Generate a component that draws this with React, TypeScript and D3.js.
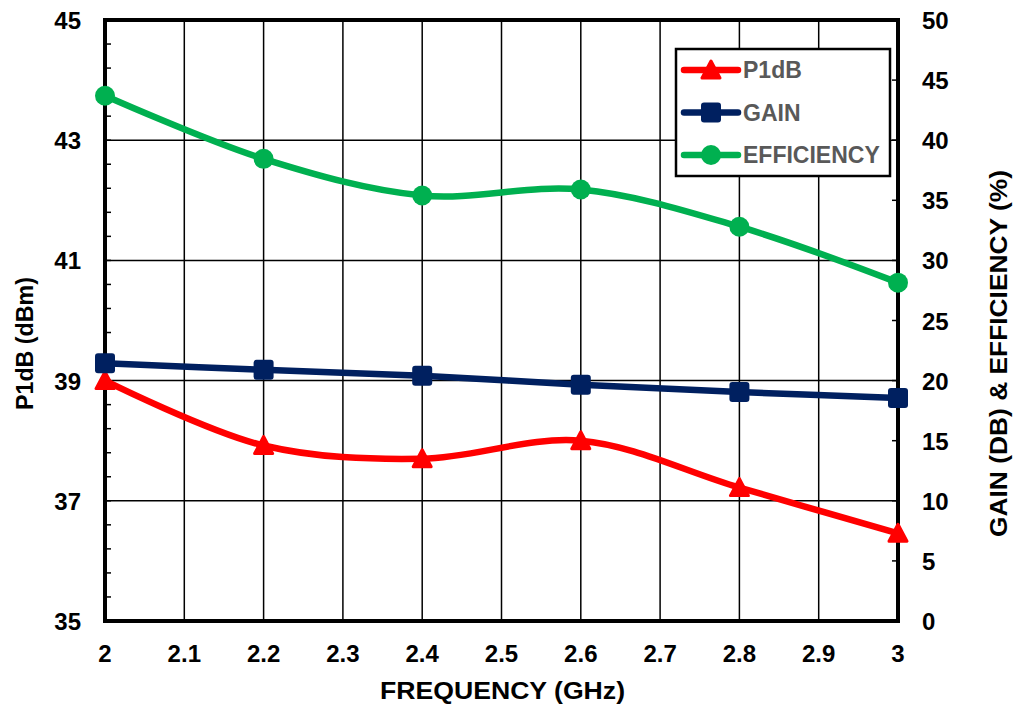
import React from "react";
import * as d3 from "d3";

const frequencies = [2.0, 2.2, 2.4, 2.6, 2.8, 3.0];
const p1dbValues = [39.0, 37.92, 37.7, 38.0, 37.22, 36.46];
const gainValues = [21.45, 20.9, 20.4, 19.65, 19.05, 18.55];
const efficiencyValues = [43.7, 38.45, 35.4, 35.9, 32.8, 28.15];

const xTicks = [2, 2.1, 2.2, 2.3, 2.4, 2.5, 2.6, 2.7, 2.8, 2.9, 3];
const leftTicks = [35, 37, 39, 41, 43, 45];
const rightTicks = [0, 5, 10, 15, 20, 25, 30, 35, 40, 45, 50];

const W = 1014;
const H = 706;
const M = { left: 105, right: 898, top: 20, bottom: 621 };
const FONT = "'Liberation Sans', Arial, sans-serif";

const legendItems = [
  { label: "P1dB", color: "#ff0000", marker: "triangle" },
  { label: "GAIN", color: "#002060", marker: "square" },
  { label: "EFFICIENCY", color: "#00b050", marker: "circle" },
];

function Marker({ type, x, y, color }: { type: string; x: number; y: number; color: string }) {
  if (type === "circle") return <circle cx={x} cy={y} r={10} fill={color} />;
  if (type === "square")
    return <rect x={x - 10} y={y - 10} width={20} height={20} rx={3} fill={color} />;
  return (
    <path
      d={`M${x},${y - 9} L${x + 9},${y + 8} L${x - 9},${y + 8} Z`}
      fill={color}
      stroke={color}
      strokeWidth={3}
      strokeLinejoin="round"
    />
  );
}

export default function App() {
  const x = d3.scaleLinear().domain([2, 3]).range([M.left, M.right]);
  const yL = d3.scaleLinear().domain([35, 45]).range([M.bottom, M.top]);
  const yR = d3.scaleLinear().domain([0, 50]).range([M.bottom, M.top]);

  const mkLine = (vals: number[], scale: d3.ScaleLinear<number, number>) =>
    d3
      .line<number>()
      .x((_, i) => x(frequencies[i]))
      .y((v) => scale(v))
      .curve(d3.curveCatmullRom.alpha(0.5))(vals) as string;

  const series = [
    { vals: p1dbValues, scale: yL, ...legendItems[0] },
    { vals: gainValues, scale: yR, ...legendItems[1] },
    { vals: efficiencyValues, scale: yR, ...legendItems[2] },
  ];

  const leftMinor = d3.range(35, 45.001, 0.4);

  return (
    <svg width={W} height={H} style={{ position: "absolute", left: 0, top: 0 }} fontFamily={FONT}>
      <rect width={W} height={H} fill="#fff" />
      {xTicks.map((t) => (
        <line key={"vx" + t} x1={x(t)} x2={x(t)} y1={M.top} y2={M.bottom} stroke="#000" strokeWidth={1.5} />
      ))}
      {leftTicks.map((t) => (
        <line key={"hy" + t} x1={M.left} x2={M.right} y1={yL(t)} y2={yL(t)} stroke="#000" strokeWidth={1.5} />
      ))}
      {leftMinor.map((t, i) => (
        <line key={"lm" + i} x1={M.left} x2={M.left + 6} y1={yL(t)} y2={yL(t)} stroke="#000" strokeWidth={1.5} />
      ))}
      {rightTicks.map((t) => (
        <line key={"rt" + t} x1={M.right - 6} x2={M.right} y1={yR(t)} y2={yR(t)} stroke="#000" strokeWidth={1.5} />
      ))}
      <rect
        x={M.left}
        y={M.top}
        width={M.right - M.left}
        height={M.bottom - M.top}
        fill="none"
        stroke="#000"
        strokeWidth={4}
      />
      {series.map((s) => (
        <g key={s.label}>
          <path d={mkLine(s.vals, s.scale)} fill="none" stroke={s.color} strokeWidth={6.5} strokeLinejoin="round" strokeLinecap="round" />
          {s.vals.map((v, i) => (
            <Marker key={i} type={s.marker} x={x(frequencies[i])} y={s.scale(v)} color={s.color} />
          ))}
        </g>
      ))}
      {xTicks.map((t) => (
        <text key={"xl" + t} x={x(t)} y={662} textAnchor="middle" fontSize={24} fontWeight="bold">
          {String(t)}
        </text>
      ))}
      {leftTicks.map((t) => (
        <text key={"ll" + t} x={81} y={yL(t) + 9} textAnchor="end" fontSize={24} fontWeight="bold">
          {t}
        </text>
      ))}
      {rightTicks.map((t) => (
        <text key={"rl" + t} x={922} y={yR(t) + 9} textAnchor="start" fontSize={24} fontWeight="bold">
          {t}
        </text>
      ))}
      <text x={380} y={699} fontSize={24} fontWeight="bold" textLength={245} lengthAdjust="spacingAndGlyphs">
        FREQUENCY (GHz)
      </text>
      <text
        transform={`translate(33, 410) rotate(-90)`}
        fontSize={24}
        fontWeight="bold"
        textLength={133}
        lengthAdjust="spacingAndGlyphs"
      >
        P1dB (dBm)
      </text>
      <text
        transform={`translate(1007, 537) rotate(-90)`}
        fontSize={23}
        fontWeight="bold"
        textLength={367}
        lengthAdjust="spacingAndGlyphs"
      >
        GAIN (DB) &amp; EFFICIENCY (%)
      </text>
      <rect x={676} y={49} width={214} height={127} fill="#fff" stroke="#000" strokeWidth={2.5} />
      {legendItems.map((it, i) => {
        const cy = 70 + i * 42.5;
        return (
          <g key={"lg" + it.label}>
            <line x1={684} x2={738} y1={cy} y2={cy} stroke={it.color} strokeWidth={6.5} strokeLinecap="round" />
            <Marker type={it.marker} x={711} y={cy} color={it.color} />
            <text x={743} y={cy + 8} fontSize={23} fontWeight="bold" fill="#595959">
              {it.label}
            </text>
          </g>
        );
      })}
    </svg>
  );
}
